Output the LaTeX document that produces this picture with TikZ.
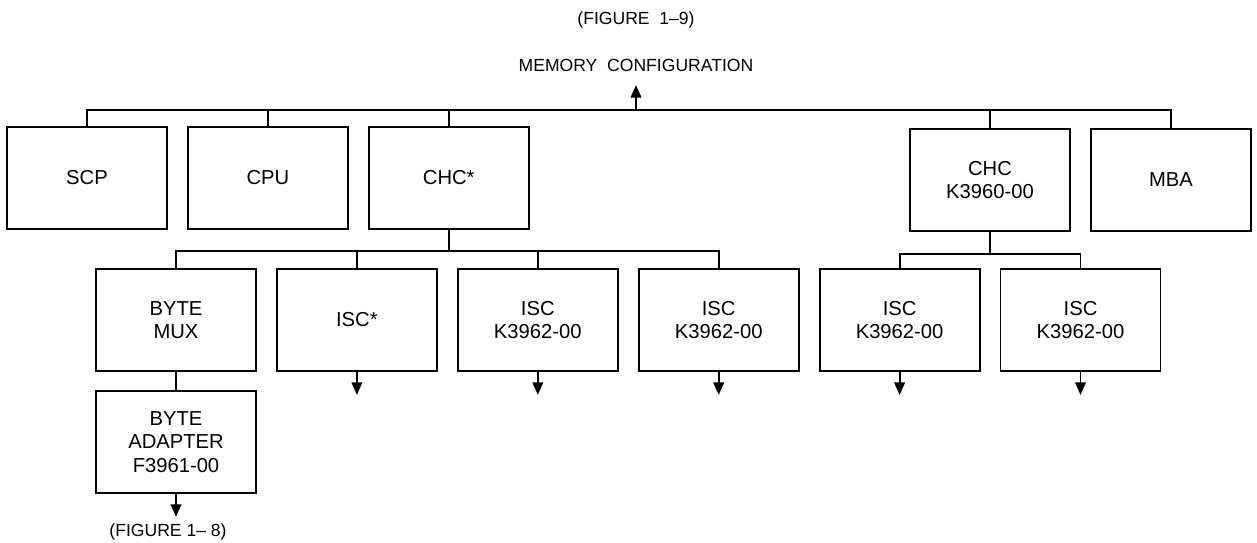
\documentclass[tikz,border=0pt]{standalone}
\usepackage{fontspec}
\setmainfont{Liberation Sans}
\usetikzlibrary{positioning,arrows.meta}

\begin{document}
\begin{tikzpicture}[
    x=0.02cm, y=-0.02cm,
    node distance=0.3cm and 0.38cm,
    box/.style={rectangle, draw, line width=1.1pt, minimum width=3.2cm, minimum height=2.04cm, align=center, inner sep=0pt, font=\fontsize{11.5}{13.5}\selectfont},
    wire/.style={line width=1.1pt},
    arrow/.style={line width=1.1pt, -{Triangle[length=2.5mm,width=2.1mm]}},
    lbl/.style={font=\fontsize{10}{12}\selectfont}
]
    \useasboundingbox (0,0) rectangle (1257,542);

    % Titles
    \node[lbl] (fig9) at (636,20) {(FIGURE\ \ 1--9)};
    \node[lbl] (memcfg) at (636,65) {MEMORY\ \ CONFIGURATION};
    \coordinate (memtip) at (636,85);
    \coordinate (topbus) at (636,110);

    % Top row
    \node[box] (scp) at (87,178) {SCP};
    \node[box, right=of scp] (cpu) {CPU};
    \node[box, right=of cpu] (chca) {CHC*};
    \node[box] (chcb) at (990,180) {CHC\\K3960-00};
    \node[box, right=of chcb] (mba) {MBA};

    % Second row
    \node[box] (mux) at (176,320) {BYTE\\MUX};
    \node[box, right=of mux] (isca) {ISC*};
    \node[box, right=of isca] (iscb) {ISC\\K3962-00};
    \node[box, right=of iscb] (iscc) {ISC\\K3962-00};
    \node[box, right=of iscc] (iscd) {ISC\\K3962-00};
    \node[box, right=of iscd] (isce) {ISC\\K3962-00};
    \node[box, below=0.36cm of mux] (adapter) {BYTE\\ADAPTER\\F3961-00};

    % Memory bus
    \draw[wire] (scp.north) |- (topbus) -| (mba.north);
    \foreach \n in {cpu,chca,chcb}
        \draw[wire] (\n.north) -- (\n.north |- topbus);
    \draw[arrow] (topbus) -- (memtip);

    % Channel buses
    \coordinate[below=0.42cm of chca] (lowbus);
    \draw[wire] (chca.south) -- (lowbus);
    \draw[wire] (mux.north) |- (lowbus) -| (iscc.north);
    \foreach \n in {isca,iscb}
        \draw[wire] (\n.north) -- (\n.north |- lowbus);
    \coordinate[below=0.44cm of chcb] (rightbus);
    \draw[wire] (chcb.south) -- (rightbus);
    \draw[wire] (iscd.north) |- (rightbus) -| (isce.north);
    \draw[wire] (mux) -- (adapter);

    % Outputs
    \foreach \n in {isca,iscb,iscc,iscd,isce,adapter} {
        \coordinate[below=0.46cm of \n] (\n-out);
        \draw[arrow] (\n) -- (\n-out);
    }
    \node[lbl] (fig8) at (168,532) {(FIGURE 1-- 8)};
\end{tikzpicture}
\end{document}
